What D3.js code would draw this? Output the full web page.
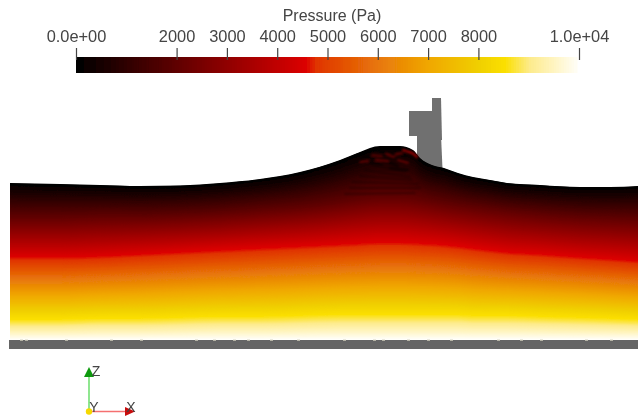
<!DOCTYPE html>
<html>
<head>
<title>Pressure</title>
<style>
html, body { margin: 0; background: #fff; }
text { font-family: "Liberation Sans", sans-serif; fill: #444; }
</style>
</head>
<body>
<svg width="638" height="419"></svg>
<script src="https://cdnjs.cloudflare.com/ajax/libs/d3/7.8.5/d3.min.js"></script>
<script>
// colour bar
var colorPressure = [0, 4550, 4750, 6000, 7000, 8000, 8500, 9000, 9500, 10000];
var colorValues = ["#000000", "#dc0000", "#e03400", "#e8780a", "#f0a800", "#f0d000", "#fbdf00", "#fdeb8c", "#fff5c4", "#ffffff"];
var tickValues = [0, 2000, 3000, 4000, 5000, 6000, 7000, 8000, 10000];
var tickLabels = ["0.0e+00", "2000", "3000", "4000", "5000", "6000", "7000", "8000", "1.0e+04"];

// distance along the flume and height above the bed
var stationX = [0, 50, 90, 130, 170, 210, 250, 290, 330, 350, 370, 390, 403, 410, 422, 434, 448, 463, 480, 497, 530, 570, 600, 628];
var surfaceZ = [157, 156, 155, 154, 154.5, 157, 161, 168, 180, 188, 194, 194, 190, 182, 175, 172, 167, 163, 160, 157, 155, 153, 153, 154];
var p2000Z = [123, 123, 124, 124, 125, 127, 130, 133, 138, 141, 143, 143, 142, 141, 139, 137, 135, 133, 131, 129, 126, 123, 122, 121];
var p4500Z = [84, 84, 85, 87, 89, 91, 93, 95, 97, 98, 99, 99, 98.5, 98, 97.5, 96.5, 95, 93, 91, 89, 87, 84, 82, 80];
var p8500Z = [21, 21, 22, 22, 23, 24, 24, 25, 26, 26, 26, 26, 26, 26, 26, 26, 26, 25, 25, 25, 24, 23, 22, 21];
var bedZ = [0, 0, 0, 0, 0, 0, 0, 0, 0, 0, 0, 0, 0, 0, 0, 0, 0, 0, 0, 0, 0, 0, 0, 0];
var contourPressure = [0, 2000, 4500, 8500, 10000];

// structure outline [x, z]
var postUpper = [[422, 242], [431, 242], [432, 200], [422, 200]];
var postBlock = [[399, 229], [422, 229], [422, 204], [399, 204]];
var postLower = [[407, 205], [431, 205], [432.5, 171], [407, 178]];

// ripples below the crest [x0, z0, x1, z1]
var ripples = [
  [362, 175, 395, 168], [355, 170, 400, 163], [350, 164, 402, 160],
  [342, 158, 408, 156], [340, 152, 410, 152], [335, 146, 405, 147]
];
var crestDark = [[352, 184, 368, 181], [365, 190, 380, 186], [372, 180, 388, 174], [385, 189, 396, 184], [380, 172, 398, 170], [358, 178, 372, 176]];
var crestRed = [[362, 185, 372, 184], [376, 186, 384, 183], [366, 180, 378, 179], [388, 180, 398, 177], [385, 185, 392, 187], [350, 178, 358, 179]];
var bedSpecks = [10, 15, 55, 100, 130, 185, 203, 223, 237, 260, 287, 333, 363, 372, 397, 417, 440, 487, 510, 530, 575, 600];

var svg = d3.select("svg");
var defs = svg.append("defs");
defs.append("filter").attr("id", "soft").append("feGaussianBlur").attr("stdDeviation", 0.6);
defs.append("filter").attr("id", "softer").append("feGaussianBlur").attr("stdDeviation", 0.9);
defs.append("filter").attr("id", "textsoft").append("feGaussianBlur").attr("stdDeviation", 0.35);

var x = d3.scaleLinear().domain([0, 628]).range([10, 638]);
var z = d3.scaleLinear().domain([0, 200]).range([340, 140]);
var pScale = d3.scaleLinear().domain([0, 10000]).range([76, 579]);
var color = d3.scaleLinear().domain(colorPressure).range(colorValues).clamp(true);

/////// structure, behind the water ///////
var outline = d3.line().x(function(d) { return x(d[0]); }).y(function(d) { return z(d[1]); });
var structure = svg.append("g").attr("filter", "url(#soft)");
[postUpper, postBlock, postLower].forEach(function(poly) {
  structure.append("path").attr("d", outline(poly) + "Z").attr("fill", "#707070");
});

/////// pressure field: deepest colour painted last ///////
var contours = [surfaceZ, p2000Z, p4500Z, p8500Z, bedZ];
function levelZ(p, i) {
  return d3.scaleLinear().domain(contourPressure).range(contours.map(function(c) { return c[i]; }))(p);
}
var area = function(p) {
  return d3.area()
    .x(function(d) { return x(d); })
    .y0(z(0))
    .y1(function(d, i) { return z(levelZ(p, i)); })
    .curve(d3.curveMonotoneX)(stationX);
};
var field = svg.append("g").attr("filter", "url(#soft)");
field.selectAll("path")
  .data(d3.range(0, 10000, 25))
  .enter().append("path")
    .attr("d", area)
    .attr("fill", function(p) { return color(p); });

var seg = function(r) {
  return "M" + x(r[0]) + "," + z(r[1]) + "L" + x(r[2]) + "," + z(r[3]);
};
var wash = svg.append("g").attr("filter", "url(#softer)").attr("fill", "none").attr("stroke-linecap", "round");
wash.selectAll(".rip").data(ripples).enter().append("path").attr("class", "rip")
  .attr("d", seg).attr("stroke", "#000").attr("stroke-opacity", 0.3).attr("stroke-width", 1.8);
wash.selectAll(".dark").data(crestDark).enter().append("path").attr("class", "dark")
  .attr("d", seg).attr("stroke", "#000").attr("stroke-opacity", 0.7).attr("stroke-width", 2);
wash.selectAll(".red").data(crestRed).enter().append("path").attr("class", "red")
  .attr("d", seg).attr("stroke", "#a00000").attr("stroke-opacity", 0.7).attr("stroke-width", 1.6);
// red lip at the front of the crest
wash.append("path")
  .attr("d", d3.line().x(function(d) { return x(d[0]); }).y(function(d) { return z(d[1]); }).curve(d3.curveBasis)([[393, 190], [400, 188], [404, 186], [407, 183]]))
  .attr("stroke", "#a80000").attr("stroke-width", 2);

/////// bed ///////
var bed = svg.append("g").attr("filter", "url(#soft)");
bed.append("rect").attr("x", x(0) - 1).attr("y", z(0)).attr("width", 630).attr("height", 9).attr("fill", "#656565");
bed.selectAll("rect.speck").data(bedSpecks).enter().append("rect").attr("class", "speck")
  .attr("x", function(d) { return x(d); }).attr("y", z(0) - 0.5).attr("width", 3).attr("height", 1.2).attr("fill", "#d8d4c0");

/////// colour bar ///////
var bar = svg.append("g").attr("filter", "url(#soft)");
var step = 50;
bar.selectAll("rect")
  .data(d3.range(0, 10000 - step, step))
  .enter().append("rect")
    .attr("x", function(d) { return pScale(d); })
    .attr("y", 57)
    .attr("width", pScale(step) - pScale(0) + 1)
    .attr("height", 16)
    .attr("fill", function(d) { return color(d); });

var axis = d3.axisTop(pScale)
  .tickValues(tickValues)
  .tickSize(12)
  .tickPadding(6)
  .tickFormat(function(d, i) { return tickLabels[i]; });
var axisG = svg.append("g").attr("transform", "translate(0,60)").attr("filter", "url(#textsoft)").call(axis);
axisG.select(".domain").remove();
axisG.selectAll("line").attr("stroke", "#444").attr("stroke-width", 1.2);
axisG.selectAll("text").style("font-size", "16.4px").style("font-family", "'Liberation Sans', sans-serif").attr("fill", "#444");

svg.append("text").attr("x", 332).attr("y", 21).attr("text-anchor", "middle")
  .attr("filter", "url(#textsoft)").style("font-size", "16px").text("Pressure (Pa)");

/////// orientation triad ///////
var triad = svg.append("g").attr("filter", "url(#textsoft)");
triad.append("line").attr("x1", 89).attr("y1", 411).attr("x2", 89).attr("y2", 375).attr("stroke", "#74e074").attr("stroke-width", 1.6);
triad.append("path").attr("d", "M89,367L94,377L84,377Z").attr("fill", "#0a9a0a");
triad.append("line").attr("x1", 89).attr("y1", 411.5).attr("x2", 125).attr("y2", 411.5).attr("stroke", "#f57070").attr("stroke-width", 1.6);
triad.append("path").attr("d", "M135,411.5L125,407L125,416Z").attr("fill", "#c80c0c");
triad.append("circle").attr("cx", 89).attr("cy", 411.5).attr("r", 3.2).attr("fill", "#f5d800");
[["Z", 96, 376], ["Y", 94, 412], ["X", 131, 412]].forEach(function(t) {
  triad.append("text").attr("x", t[1]).attr("y", t[2]).attr("text-anchor", "middle").style("font-size", "14px").text(t[0]);
});
</script>
</body>
</html>
